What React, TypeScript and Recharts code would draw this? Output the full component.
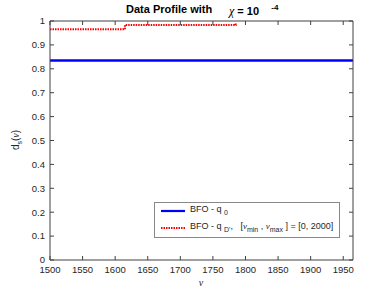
import React from "react";
import { LineChart, Line, XAxis, YAxis } from "recharts";

const xTicks = [1500, 1550, 1600, 1650, 1700, 1750, 1800, 1850, 1900, 1950];
const yTicks = [0, 0.1, 0.2, 0.3, 0.4, 0.5, 0.6, 0.7, 0.8, 0.9, 1];

// BFO - q0 (flat)
const q0Nu = [1500, 1965];
const q0Val = [0.835, 0.835];

// BFO - qD' (step)
const qdNu = [1500, 1615, 1785];
const qdVal = [0.965, 0.983, 0.99];

const q0Data = q0Nu.map((nu, i) => ({ nu, v: q0Val[i] }));
const qdData = qdNu.map((nu, i) => ({ nu, v: qdVal[i] }));

const axisColor = "#404040";
const font = "'Liberation Sans', Arial, sans-serif";
const tickStyle = { fontSize: 9.5, fill: "#262626", fontFamily: font };
const noLabel = () => "";

const LegendBox = () => (
  <div
    style={{
      position: "absolute",
      left: 154,
      top: 202,
      width: 186,
      height: 36,
      border: "1px solid #888",
      background: "#fff",
      fontFamily: font,
      fontSize: 9,
      color: "#262626",
      boxSizing: "border-box",
    }}
  >
    <svg width={30} height={34} style={{ position: "absolute", left: 0, top: 0 }}>
      <line x1={6} y1={8} x2={30} y2={8} stroke="#0000ff" strokeWidth={2.2} />
      <line x1={6} y1={25} x2={30} y2={25} stroke="#ff0000" strokeWidth={2} strokeDasharray="1.5 1" />
    </svg>
    <div style={{ position: "absolute", left: 35, top: 1, whiteSpace: "nowrap" }}>
      BFO - q <sub style={{ fontSize: 7 }}>0</sub>
    </div>
    <div style={{ position: "absolute", left: 35, top: 18, whiteSpace: "nowrap" }}>
      BFO - q <sub style={{ fontSize: 7 }}>D'</sub>,&nbsp;&nbsp; [
      <span style={{ fontFamily: "serif", fontStyle: "italic" }}>ν</span>
      <sub style={{ fontSize: 7 }}>min</sub> ,{" "}
      <span style={{ fontFamily: "serif", fontStyle: "italic" }}>ν</span>
      <sub style={{ fontSize: 7 }}>max</sub> ] = [0, 2000]
    </div>
  </div>
);

export default function App() {
  return (
    <div style={{ position: "absolute", left: 0, top: 0, width: 390, height: 293, background: "#fff" }}>
      <LineChart
        width={390}
        height={293}
        margin={{ top: 20, right: 36, left: 0, bottom: 0 }}
      >
        <XAxis
          dataKey="nu"
          type="number"
          domain={[1500, 1965]}
          ticks={xTicks}
          allowDataOverflow
          height={33}
          stroke={axisColor}
          tickSize={-4}
          tickMargin={10}
          tick={tickStyle}
          interval={0}
        />
        <XAxis
          xAxisId="top"
          orientation="top"
          dataKey="nu"
          type="number"
          domain={[1500, 1965]}
          ticks={xTicks}
          allowDataOverflow
          height={1}
          stroke={axisColor}
          tickSize={-4}
          tickMargin={0}
          tickFormatter={noLabel}
          interval={0}
        />
        <YAxis
          type="number"
          domain={[0, 1]}
          ticks={yTicks}
          width={50}
          stroke={axisColor}
          tickSize={-4}
          tickMargin={9}
          tick={tickStyle}
          interval={0}
        />
        <YAxis
          yAxisId="right"
          orientation="right"
          type="number"
          domain={[0, 1]}
          ticks={yTicks}
          allowDataOverflow
          width={1}
          stroke={axisColor}
          tickSize={-4}
          tickMargin={0}
          tickFormatter={noLabel}
          interval={0}
        />
        {/* invisible series so the box axes (top/right) get drawn */}
        <Line
          xAxisId="top"
          yAxisId="right"
          data={q0Data}
          dataKey="v"
          stroke="none"
          dot={false}
          activeDot={false}
          legendType="none"
          isAnimationActive={false}
        />
        <Line
          data={q0Data}
          dataKey="v"
          type="linear"
          stroke="#0000ff"
          strokeWidth={2.5}
          dot={false}
          isAnimationActive={false}
        />
        <Line
          data={qdData}
          dataKey="v"
          type="stepAfter"
          stroke="#ff0000"
          strokeWidth={2}
          strokeDasharray="1.5 1"
          dot={false}
          isAnimationActive={false}
        />
      </LineChart>
      <LegendBox />
      <div
        style={{
          position: "absolute",
          top: 3,
          left: 126,
          fontFamily: font,
          fontWeight: "bold",
          fontSize: 11,
          color: "#000",
          whiteSpace: "nowrap",
        }}
      >
        Data Profile with
      </div>
      <div
        style={{
          position: "absolute",
          top: 3,
          left: 229,
          fontFamily: font,
          fontWeight: "bold",
          fontSize: 11,
          color: "#000",
          whiteSpace: "nowrap",
        }}
      >
        <span style={{ fontFamily: "serif", fontWeight: "normal", fontStyle: "italic", fontSize: 12 }}>χ</span> = 10
        &nbsp;&nbsp;&nbsp;
        <sup style={{ fontSize: 8 }}>-4</sup>
      </div>
      <div
        style={{
          position: "absolute",
          left: 16,
          top: 140,
          transform: "translate(-50%, -50%) rotate(-90deg)",
          fontFamily: font,
          fontSize: 10,
          color: "#262626",
          whiteSpace: "nowrap",
        }}
      >
        d<sub style={{ fontSize: 7 }}>s</sub>(
        <span style={{ fontFamily: "serif", fontStyle: "italic" }}>ν</span>)
      </div>
      <div
        style={{
          position: "absolute",
          left: 201,
          top: 282,
          transform: "translate(-50%, -50%)",
          fontFamily: "serif",
          fontStyle: "italic",
          fontSize: 10,
          color: "#262626",
        }}
      >
        ν
      </div>
    </div>
  );
}
